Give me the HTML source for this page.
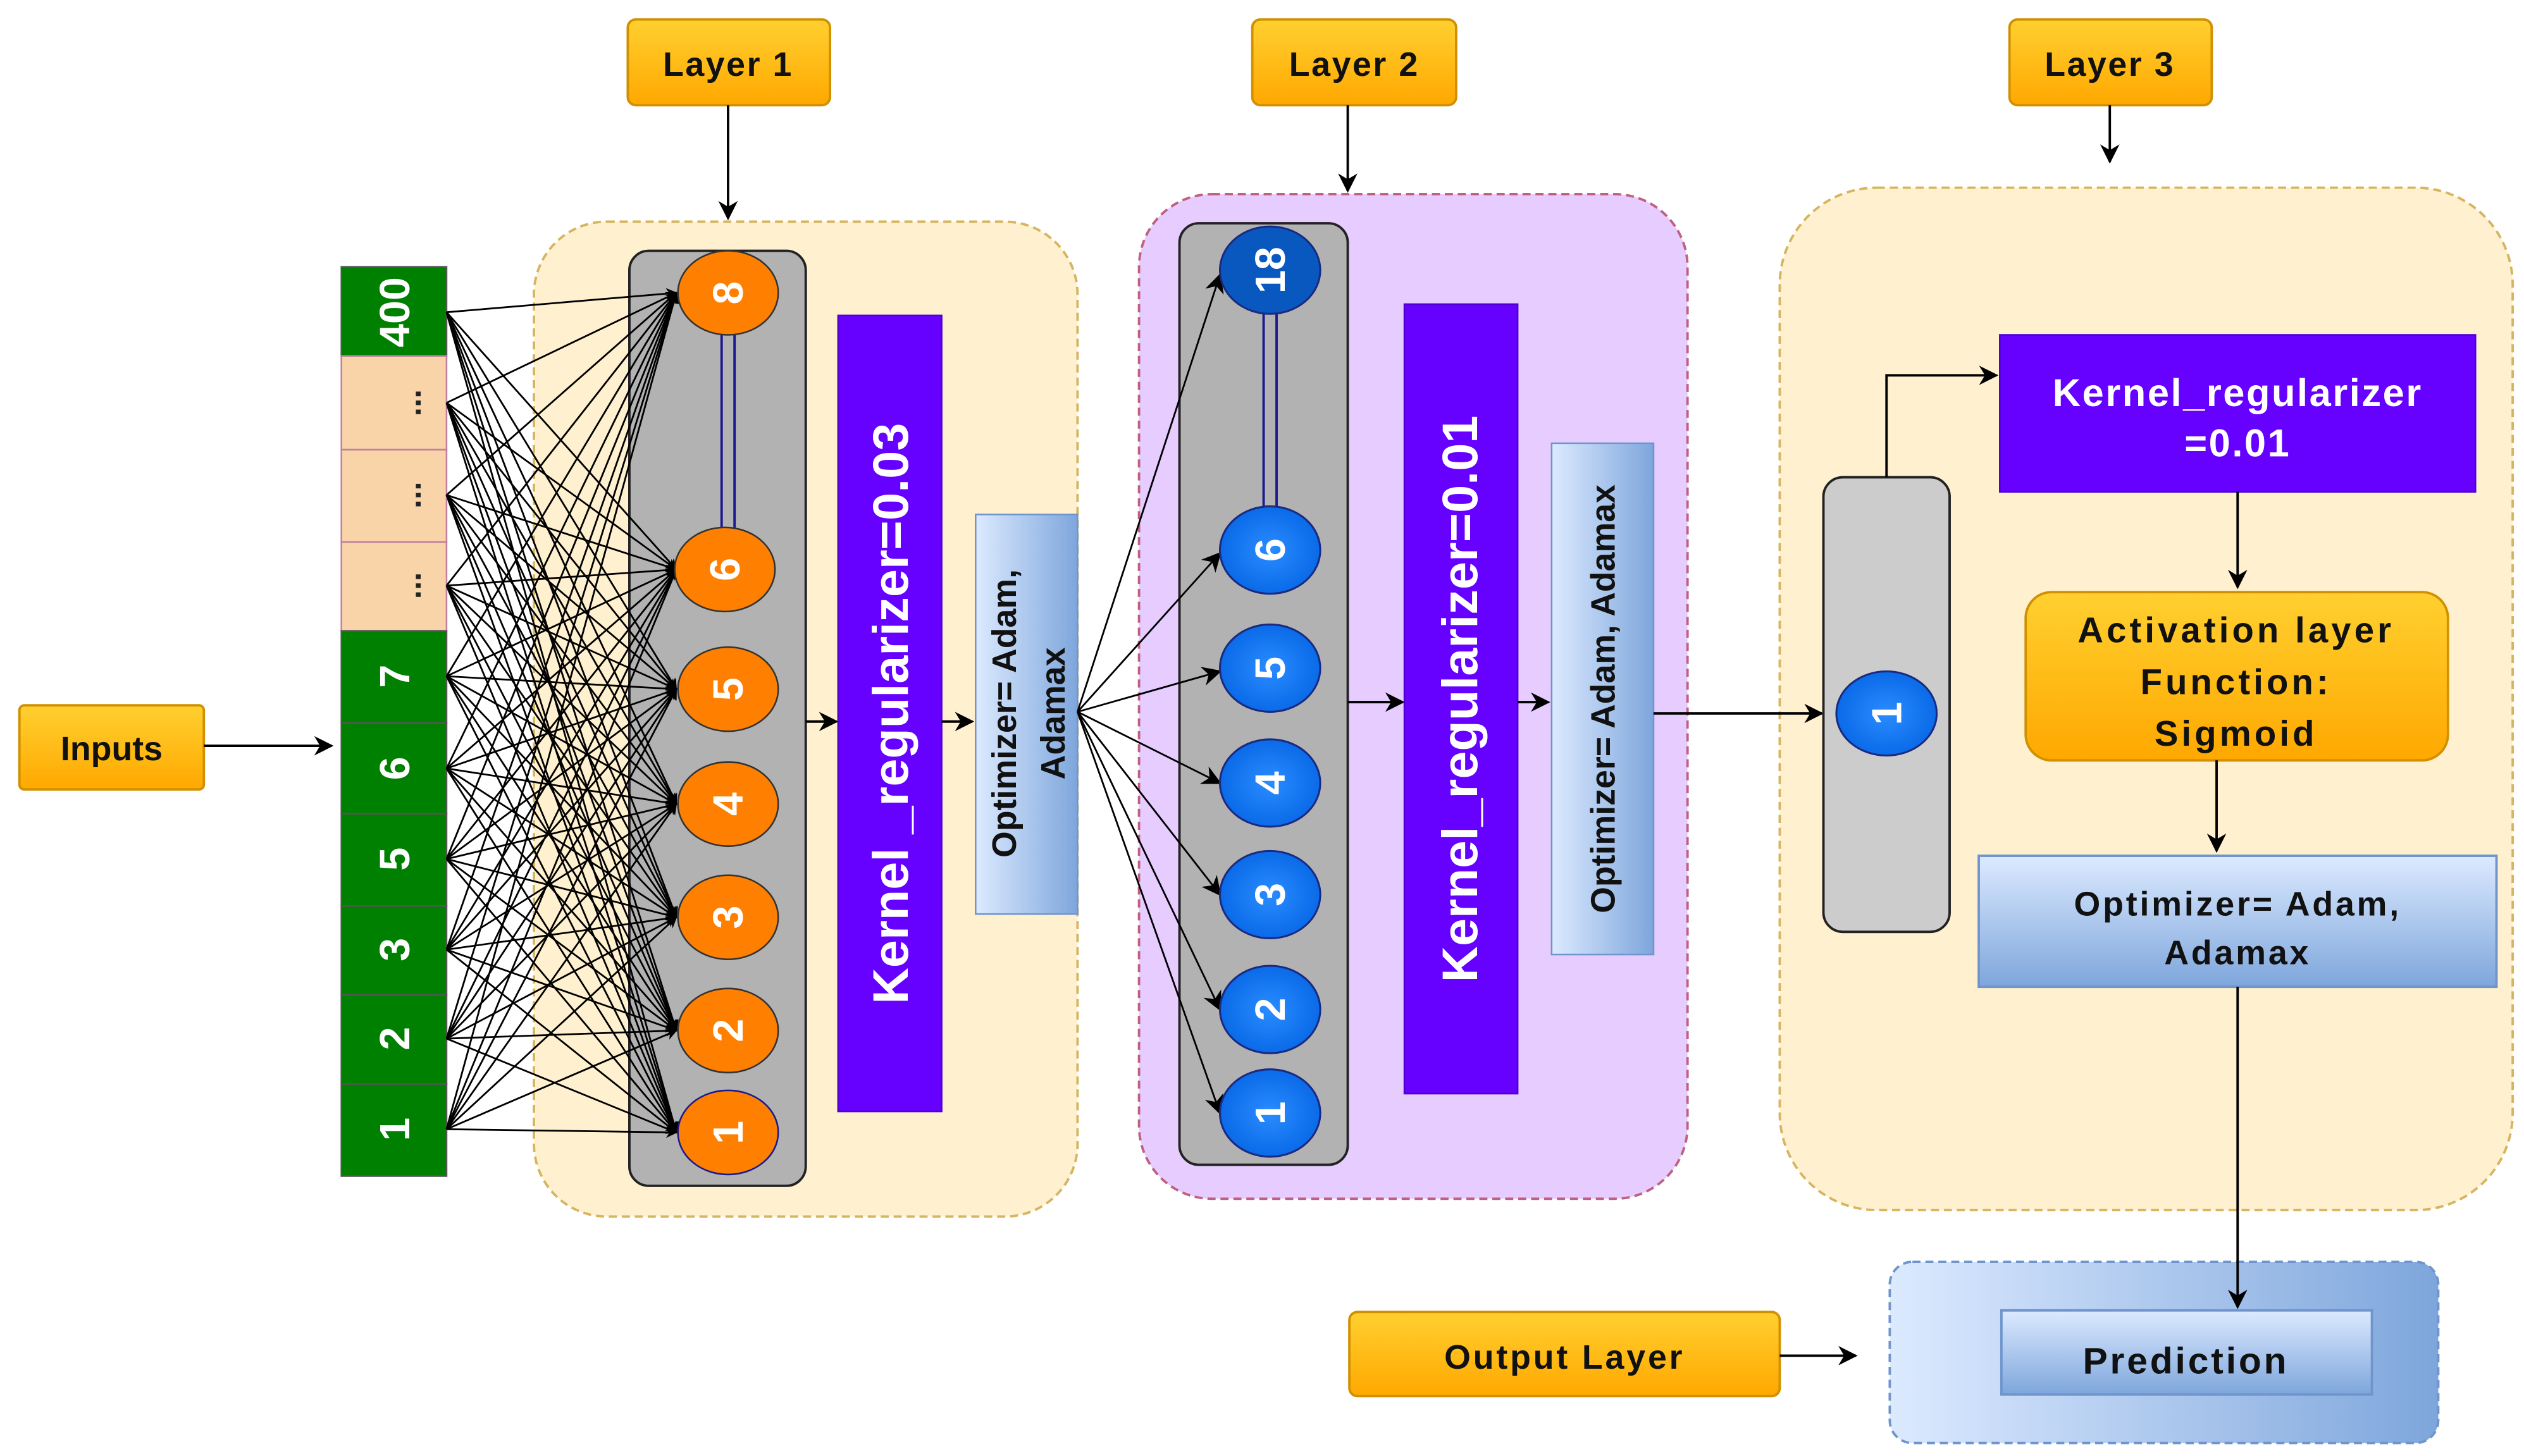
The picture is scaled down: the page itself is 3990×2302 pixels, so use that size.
<!DOCTYPE html>
<html><head><meta charset="utf-8"><style>html,body{margin:0;padding:0;background:#fff}svg{display:block}text{font-family:"Liberation Sans",sans-serif;font-weight:bold}</style></head>
<body>
<svg width="3990" height="2302" viewBox="0 0 1560 900" xmlns="http://www.w3.org/2000/svg">
<defs>
<marker id="a" viewBox="0 0 10 10" refX="9" refY="5" markerWidth="7" markerHeight="7" markerUnits="userSpaceOnUse" orient="auto"><path d="M0 0L10 5L0 10L3 5z" fill="#000"/></marker>
<marker id="b" viewBox="0 0 10 10" refX="9" refY="5" markerWidth="12" markerHeight="12" markerUnits="userSpaceOnUse" orient="auto"><path d="M0 0L10 5L0 10L3 5z" fill="#000"/></marker>
<linearGradient id="og" x1="0" y1="0" x2="0" y2="1"><stop offset="0" stop-color="#ffd030"/><stop offset="1" stop-color="#ffa800"/></linearGradient>
<linearGradient id="bgv" x1="0" y1="0" x2="1" y2="0"><stop offset="0" stop-color="#dceaff"/><stop offset="1" stop-color="#7ea6dc"/></linearGradient>
<linearGradient id="bgh" x1="0" y1="0" x2="0" y2="1"><stop offset="0" stop-color="#dceaff"/><stop offset="1" stop-color="#7ea6dc"/></linearGradient>
<radialGradient id="nb"><stop offset="0" stop-color="#2a8cff"/><stop offset="1" stop-color="#0a6ae8"/></radialGradient>
</defs>

<rect x="330" y="137" width="336" height="615" rx="45" fill="#fff1cf" stroke="#d6b460" stroke-width="1.5" stroke-dasharray="5,3"/>
<rect x="704" y="120" width="339" height="621" rx="45" fill="#e6ccff" stroke="#c06080" stroke-width="1.5" stroke-dasharray="5,3"/>
<rect x="1100" y="116" width="453" height="632" rx="60" fill="#fff1cf" stroke="#d6b460" stroke-width="1.5" stroke-dasharray="5,3"/>

<g stroke="#d09000" stroke-width="1.5" fill="url(#og)">
<rect x="388" y="12" width="125" height="53" rx="5"/>
<rect x="774" y="12" width="126" height="53" rx="5"/>
<rect x="1242" y="12" width="125" height="53" rx="5"/>
<rect x="12" y="436" width="114" height="52" rx="3"/>
<rect x="834" y="811" width="266" height="52" rx="5"/>
</g>
<g font-size="21" text-anchor="middle" fill="#111">
<text x="450" y="47" letter-spacing="1">Layer 1</text>
<text x="837" y="47" letter-spacing="1">Layer 2</text>
<text x="1304" y="47" letter-spacing="1">Layer 3</text>
<text x="69" y="470">Inputs</text>
<text x="967" y="846" letter-spacing="1.5">Output Layer</text>
</g>

<g stroke="#000" stroke-width="1.5" fill="none" marker-end="url(#b)">
<line x1="450" y1="65" x2="450" y2="135"/>
<line x1="833" y1="65" x2="833" y2="118"/>
<line x1="1304" y1="65" x2="1304" y2="100"/>
<line x1="126" y1="461" x2="205" y2="461"/>
<line x1="1100" y1="838" x2="1147" y2="838"/>
</g>

<g stroke="#555" stroke-width="1">
<rect x="211" y="165" width="65" height="55" fill="#008000"/>
<rect x="211" y="220" width="65" height="58" fill="#f8d4a8" stroke="#c080a0"/>
<rect x="211" y="278" width="65" height="57" fill="#f8d4a8" stroke="#c080a0"/>
<rect x="211" y="335" width="65" height="55" fill="#f8d4a8" stroke="#c080a0"/>
<rect x="211" y="390" width="65" height="57" fill="#008000"/>
<rect x="211" y="447" width="65" height="56" fill="#008000"/>
<rect x="211" y="503" width="65" height="57" fill="#008000"/>
<rect x="211" y="560" width="65" height="55" fill="#008000"/>
<rect x="211" y="615" width="65" height="55" fill="#008000"/>
<rect x="211" y="670" width="65" height="57" fill="#008000"/>
</g>
<g font-size="26" fill="#fff" text-anchor="middle">
<text transform="translate(253 193) rotate(-90)">400</text>
<text transform="translate(253 418) rotate(-90)">7</text>
<text transform="translate(253 475) rotate(-90)">6</text>
<text transform="translate(253 531) rotate(-90)">5</text>
<text transform="translate(253 587) rotate(-90)">3</text>
<text transform="translate(253 642) rotate(-90)">2</text>
<text transform="translate(253 698) rotate(-90)">1</text>
</g>
<g font-size="20" fill="#222" text-anchor="middle">
<text transform="translate(260 249) rotate(-90)">...</text>
<text transform="translate(260 306) rotate(-90)">...</text>
<text transform="translate(260 362) rotate(-90)">...</text>
</g>

<rect x="389" y="155" width="109" height="578" rx="12" fill="#b2b2b2" stroke="#222" stroke-width="1.5"/>

<g stroke="#000" stroke-width="1.1" marker-end="url(#a)">
<line x1="276" y1="193" x2="418" y2="181"/><line x1="276" y1="193" x2="418" y2="352"/><line x1="276" y1="193" x2="418" y2="426"/><line x1="276" y1="193" x2="418" y2="497"/><line x1="276" y1="193" x2="418" y2="567"/><line x1="276" y1="193" x2="418" y2="637"/><line x1="276" y1="193" x2="418" y2="700"/>
<line x1="276" y1="249" x2="418" y2="181"/><line x1="276" y1="249" x2="418" y2="352"/><line x1="276" y1="249" x2="418" y2="426"/><line x1="276" y1="249" x2="418" y2="497"/><line x1="276" y1="249" x2="418" y2="567"/><line x1="276" y1="249" x2="418" y2="637"/><line x1="276" y1="249" x2="418" y2="700"/>
<line x1="276" y1="306" x2="418" y2="181"/><line x1="276" y1="306" x2="418" y2="352"/><line x1="276" y1="306" x2="418" y2="426"/><line x1="276" y1="306" x2="418" y2="497"/><line x1="276" y1="306" x2="418" y2="567"/><line x1="276" y1="306" x2="418" y2="637"/><line x1="276" y1="306" x2="418" y2="700"/>
<line x1="276" y1="362" x2="418" y2="181"/><line x1="276" y1="362" x2="418" y2="352"/><line x1="276" y1="362" x2="418" y2="426"/><line x1="276" y1="362" x2="418" y2="497"/><line x1="276" y1="362" x2="418" y2="567"/><line x1="276" y1="362" x2="418" y2="637"/><line x1="276" y1="362" x2="418" y2="700"/>
<line x1="276" y1="418" x2="418" y2="181"/><line x1="276" y1="418" x2="418" y2="352"/><line x1="276" y1="418" x2="418" y2="426"/><line x1="276" y1="418" x2="418" y2="497"/><line x1="276" y1="418" x2="418" y2="567"/><line x1="276" y1="418" x2="418" y2="637"/><line x1="276" y1="418" x2="418" y2="700"/>
<line x1="276" y1="475" x2="418" y2="181"/><line x1="276" y1="475" x2="418" y2="352"/><line x1="276" y1="475" x2="418" y2="426"/><line x1="276" y1="475" x2="418" y2="497"/><line x1="276" y1="475" x2="418" y2="567"/><line x1="276" y1="475" x2="418" y2="637"/><line x1="276" y1="475" x2="418" y2="700"/>
<line x1="276" y1="531" x2="418" y2="181"/><line x1="276" y1="531" x2="418" y2="352"/><line x1="276" y1="531" x2="418" y2="426"/><line x1="276" y1="531" x2="418" y2="497"/><line x1="276" y1="531" x2="418" y2="567"/><line x1="276" y1="531" x2="418" y2="637"/><line x1="276" y1="531" x2="418" y2="700"/>
<line x1="276" y1="587" x2="418" y2="181"/><line x1="276" y1="587" x2="418" y2="352"/><line x1="276" y1="587" x2="418" y2="426"/><line x1="276" y1="587" x2="418" y2="497"/><line x1="276" y1="587" x2="418" y2="567"/><line x1="276" y1="587" x2="418" y2="637"/><line x1="276" y1="587" x2="418" y2="700"/>
<line x1="276" y1="642" x2="418" y2="181"/><line x1="276" y1="642" x2="418" y2="352"/><line x1="276" y1="642" x2="418" y2="426"/><line x1="276" y1="642" x2="418" y2="497"/><line x1="276" y1="642" x2="418" y2="567"/><line x1="276" y1="642" x2="418" y2="637"/><line x1="276" y1="642" x2="418" y2="700"/>
<line x1="276" y1="698" x2="418" y2="181"/><line x1="276" y1="698" x2="418" y2="352"/><line x1="276" y1="698" x2="418" y2="426"/><line x1="276" y1="698" x2="418" y2="497"/><line x1="276" y1="698" x2="418" y2="567"/><line x1="276" y1="698" x2="418" y2="637"/><line x1="276" y1="698" x2="418" y2="700"/>
</g>

<line x1="446" y1="207" x2="446" y2="327" stroke="#1a1a90" stroke-width="1.5"/>
<line x1="454" y1="207" x2="454" y2="327" stroke="#1a1a90" stroke-width="1.5"/>
<g fill="#ff7f00" stroke="#333" stroke-width="1">
<ellipse cx="450" cy="181" rx="31" ry="26"/>
<ellipse cx="448" cy="352" rx="31" ry="26"/>
<ellipse cx="450" cy="426" rx="31" ry="26"/>
<ellipse cx="450" cy="497" rx="31" ry="26"/>
<ellipse cx="450" cy="567" rx="31" ry="26"/>
<ellipse cx="450" cy="637" rx="31" ry="26"/>
<ellipse cx="450" cy="700" rx="31" ry="26" stroke="#1a1a90"/>
</g>
<g font-size="26" fill="#fff" text-anchor="middle">
<text transform="translate(459 181) rotate(-90)">8</text>
<text transform="translate(457 352) rotate(-90)">6</text>
<text transform="translate(459 426) rotate(-90)">5</text>
<text transform="translate(459 497) rotate(-90)">4</text>
<text transform="translate(459 567) rotate(-90)">3</text>
<text transform="translate(459 637) rotate(-90)">2</text>
<text transform="translate(459 700) rotate(-90)">1</text>
</g>

<rect x="518" y="195" width="64" height="492" fill="#6600ff" stroke="#5000d0"/>
<text transform="translate(561 441) rotate(-90)" font-size="31" fill="#fff" text-anchor="middle">Kernel _regularizer=0.03</text>
<rect x="603" y="318" width="63" height="247" fill="url(#bgv)" stroke="#6f95cc"/>
<g font-size="21" fill="#111" text-anchor="middle">
<text transform="translate(628 441) rotate(-90)">Optimizer= Adam,</text>
<text transform="translate(658 441) rotate(-90)">Adamax</text>
</g>
<g stroke="#000" stroke-width="1.5" marker-end="url(#b)">
<line x1="498" y1="446" x2="517" y2="446"/>
<line x1="582" y1="446" x2="601" y2="446"/>
</g>

<rect x="729" y="138" width="104" height="582" rx="12" fill="#b2b2b2" stroke="#222" stroke-width="1.5"/>
<g stroke="#000" stroke-width="1.1" marker-end="url(#b)">
<line x1="666" y1="440" x2="754" y2="170"/>
<line x1="666" y1="440" x2="754" y2="342"/>
<line x1="666" y1="440" x2="754" y2="415"/>
<line x1="666" y1="440" x2="754" y2="484"/>
<line x1="666" y1="440" x2="754" y2="553"/>
<line x1="666" y1="440" x2="754" y2="624"/>
<line x1="666" y1="440" x2="754" y2="688"/>
</g>
<line x1="781" y1="193" x2="781" y2="314" stroke="#1a1a90" stroke-width="1.5"/>
<line x1="789" y1="193" x2="789" y2="314" stroke="#1a1a90" stroke-width="1.5"/>
<g stroke="#1a2a80" stroke-width="1.2" fill="url(#nb)">
<ellipse cx="785" cy="167" rx="31" ry="27" fill="#0858c0"/>
<ellipse cx="785" cy="340" rx="31" ry="27"/>
<ellipse cx="785" cy="413" rx="31" ry="27"/>
<ellipse cx="785" cy="484" rx="31" ry="27"/>
<ellipse cx="785" cy="553" rx="31" ry="27"/>
<ellipse cx="785" cy="624" rx="31" ry="27"/>
<ellipse cx="785" cy="688" rx="31" ry="27"/>
</g>
<g font-size="26" fill="#fff" text-anchor="middle">
<text transform="translate(794 167) rotate(-90)">18</text>
<text transform="translate(794 340) rotate(-90)">6</text>
<text transform="translate(794 413) rotate(-90)">5</text>
<text transform="translate(794 484) rotate(-90)">4</text>
<text transform="translate(794 553) rotate(-90)">3</text>
<text transform="translate(794 624) rotate(-90)">2</text>
<text transform="translate(794 688) rotate(-90)">1</text>
</g>

<rect x="868" y="188" width="70" height="488" fill="#6600ff" stroke="#5000d0"/>
<text transform="translate(913 432) rotate(-90)" font-size="31" fill="#fff" text-anchor="middle">Kernel_regularizer=0.01</text>
<rect x="959" y="274" width="63" height="316" fill="url(#bgv)" stroke="#6f95cc"/>
<text transform="translate(998 432) rotate(-90)" font-size="21" fill="#111" text-anchor="middle">Optimizer= Adam, Adamax</text>
<g stroke="#000" stroke-width="1.5" marker-end="url(#b)">
<line x1="833" y1="434" x2="867" y2="434"/>
<line x1="938" y1="434" x2="957" y2="434"/>
<line x1="1022" y1="441" x2="1126" y2="441"/>
</g>

<rect x="1127" y="295" width="78" height="281" rx="12" fill="#cccccc" stroke="#222" stroke-width="1.5"/>
<ellipse cx="1166" cy="441" rx="31" ry="26" fill="url(#nb)" stroke="#1a2a80" stroke-width="1.2"/>
<text transform="translate(1175 441) rotate(-90)" font-size="26" fill="#fff" text-anchor="middle">1</text>
<path d="M1166 295 V232 H1234" stroke="#000" stroke-width="1.5" fill="none" marker-end="url(#b)"/>
<rect x="1236" y="207" width="294" height="97" fill="#6600ff" stroke="#5000d0"/>
<g font-size="24" fill="#fff" text-anchor="middle" letter-spacing="1">
<text x="1383" y="251">Kernel_regularizer</text>
<text x="1383" y="282">=0.01</text>
</g>
<rect x="1252" y="366" width="261" height="104" rx="16" fill="url(#og)" stroke="#d09000" stroke-width="1.5"/>
<g font-size="22" fill="#111" text-anchor="middle" letter-spacing="2">
<text x="1382" y="397">Activation layer</text>
<text x="1382" y="429">Function:</text>
<text x="1382" y="461">Sigmoid</text>
</g>
<rect x="1223" y="529" width="320" height="81" fill="url(#bgh)" stroke="#6f95cc" stroke-width="1.5"/>
<g font-size="21" fill="#111" text-anchor="middle" letter-spacing="1.5">
<text x="1383" y="566">Optimizer= Adam,</text>
<text x="1383" y="596">Adamax</text>
</g>
<g stroke="#000" stroke-width="1.5" marker-end="url(#b)" fill="none">
<line x1="1383" y1="304" x2="1383" y2="363"/>
<line x1="1370" y1="470" x2="1370" y2="526"/>
</g>

<rect x="1168" y="780" width="339" height="112" rx="14" fill="url(#bgv)" stroke="#6f95cc" stroke-width="1.5" stroke-dasharray="5,3"/>
<rect x="1237" y="810" width="229" height="52" fill="url(#bgh)" stroke="#6f95cc" stroke-width="1.5"/>
<text x="1351" y="849" font-size="23" fill="#111" text-anchor="middle" letter-spacing="1.5">Prediction</text>
<line x1="1383" y1="610" x2="1383" y2="808" stroke="#000" stroke-width="1.5" marker-end="url(#b)"/>
</svg>
</body></html>
